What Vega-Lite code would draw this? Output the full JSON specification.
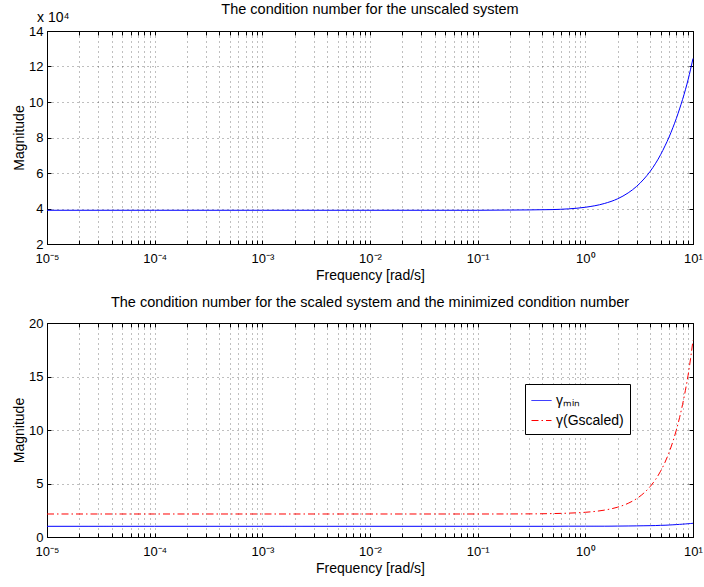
{
  "$schema": "https://vega.github.io/schema/vega-lite/v6.json",
  "background": "white",
  "padding": {"left": 12, "top": 1, "right": 6, "bottom": 2},
  "spacing": 11,
  "config": {
    "font": "Liberation Sans",
    "view": {"stroke": "black", "strokeWidth": 1},
    "axis": {
      "domainColor": "black", "tickColor": "black", "labelColor": "black", "titleColor": "black",
      "labelFont": "Liberation Sans", "titleFont": "Liberation Sans",
      "labelFontSize": 13, "titleFontSize": 14, "titleFontWeight": "normal",
      "gridColor": "black", "gridDash": [1, 4], "gridOpacity": 0.5, "gridWidth": 1,
      "tickSize": -4, "labelPadding": 8
    },
    "title": {"font": "Liberation Sans", "fontSize": 14.5, "fontWeight": "normal", "color": "black"},
    "legend": {"labelFont": "Liberation Sans"}
  },
  "datasets": {
    "unscaled": [
      {"frequency": 0.00001, "magnitude": 39000},
      {"frequency": 0.0001, "magnitude": 39000},
      {"frequency": 0.001, "magnitude": 39000},
      {"frequency": 0.01, "magnitude": 39000},
      {"frequency": 0.1, "magnitude": 39000},
      {"frequency": 0.3, "magnitude": 39200},
      {"frequency": 0.5, "magnitude": 39400},
      {"frequency": 0.7, "magnitude": 39800},
      {"frequency": 1, "magnitude": 40700},
      {"frequency": 1.5, "magnitude": 42800},
      {"frequency": 2, "magnitude": 45500},
      {"frequency": 2.5, "magnitude": 48800},
      {"frequency": 3, "magnitude": 52500},
      {"frequency": 3.5, "magnitude": 56600},
      {"frequency": 4, "magnitude": 60900},
      {"frequency": 4.5, "magnitude": 65500},
      {"frequency": 5, "magnitude": 70300},
      {"frequency": 5.5, "magnitude": 75300},
      {"frequency": 6, "magnitude": 80300},
      {"frequency": 6.5, "magnitude": 85500},
      {"frequency": 7, "magnitude": 90700},
      {"frequency": 7.5, "magnitude": 96100},
      {"frequency": 8, "magnitude": 101400},
      {"frequency": 8.5, "magnitude": 106900},
      {"frequency": 9, "magnitude": 112500},
      {"frequency": 9.5, "magnitude": 118500},
      {"frequency": 10, "magnitude": 124500}
    ],
    "scaled": [
      {"frequency": 0.00001, "magnitude": 1.00, "series": "γₘᵢₙ"},
      {"frequency": 0.0001, "magnitude": 1.00, "series": "γₘᵢₙ"},
      {"frequency": 0.001, "magnitude": 1.00, "series": "γₘᵢₙ"},
      {"frequency": 0.01, "magnitude": 1.00, "series": "γₘᵢₙ"},
      {"frequency": 0.1, "magnitude": 1.00, "series": "γₘᵢₙ"},
      {"frequency": 0.3, "magnitude": 1.00, "series": "γₘᵢₙ"},
      {"frequency": 0.5, "magnitude": 1.00, "series": "γₘᵢₙ"},
      {"frequency": 0.7, "magnitude": 1.01, "series": "γₘᵢₙ"},
      {"frequency": 1, "magnitude": 1.01, "series": "γₘᵢₙ"},
      {"frequency": 1.5, "magnitude": 1.01, "series": "γₘᵢₙ"},
      {"frequency": 2, "magnitude": 1.02, "series": "γₘᵢₙ"},
      {"frequency": 2.5, "magnitude": 1.03, "series": "γₘᵢₙ"},
      {"frequency": 3, "magnitude": 1.04, "series": "γₘᵢₙ"},
      {"frequency": 3.5, "magnitude": 1.05, "series": "γₘᵢₙ"},
      {"frequency": 4, "magnitude": 1.06, "series": "γₘᵢₙ"},
      {"frequency": 4.5, "magnitude": 1.07, "series": "γₘᵢₙ"},
      {"frequency": 5, "magnitude": 1.09, "series": "γₘᵢₙ"},
      {"frequency": 5.5, "magnitude": 1.10, "series": "γₘᵢₙ"},
      {"frequency": 6, "magnitude": 1.12, "series": "γₘᵢₙ"},
      {"frequency": 6.5, "magnitude": 1.14, "series": "γₘᵢₙ"},
      {"frequency": 7, "magnitude": 1.16, "series": "γₘᵢₙ"},
      {"frequency": 7.5, "magnitude": 1.18, "series": "γₘᵢₙ"},
      {"frequency": 8, "magnitude": 1.20, "series": "γₘᵢₙ"},
      {"frequency": 8.5, "magnitude": 1.22, "series": "γₘᵢₙ"},
      {"frequency": 9, "magnitude": 1.24, "series": "γₘᵢₙ"},
      {"frequency": 9.5, "magnitude": 1.26, "series": "γₘᵢₙ"},
      {"frequency": 10, "magnitude": 1.28, "series": "γₘᵢₙ"},
      {"frequency": 0.00001, "magnitude": 2.15, "series": "γ(Gscaled)"},
      {"frequency": 0.0001, "magnitude": 2.15, "series": "γ(Gscaled)"},
      {"frequency": 0.001, "magnitude": 2.15, "series": "γ(Gscaled)"},
      {"frequency": 0.01, "magnitude": 2.15, "series": "γ(Gscaled)"},
      {"frequency": 0.1, "magnitude": 2.15, "series": "γ(Gscaled)"},
      {"frequency": 0.3, "magnitude": 2.16, "series": "γ(Gscaled)"},
      {"frequency": 0.5, "magnitude": 2.19, "series": "γ(Gscaled)"},
      {"frequency": 0.7, "magnitude": 2.23, "series": "γ(Gscaled)"},
      {"frequency": 1, "magnitude": 2.31, "series": "γ(Gscaled)"},
      {"frequency": 1.5, "magnitude": 2.51, "series": "γ(Gscaled)"},
      {"frequency": 2, "magnitude": 2.79, "series": "γ(Gscaled)"},
      {"frequency": 2.5, "magnitude": 3.15, "series": "γ(Gscaled)"},
      {"frequency": 3, "magnitude": 3.59, "series": "γ(Gscaled)"},
      {"frequency": 3.5, "magnitude": 4.11, "series": "γ(Gscaled)"},
      {"frequency": 4, "magnitude": 4.71, "series": "γ(Gscaled)"},
      {"frequency": 4.5, "magnitude": 5.39, "series": "γ(Gscaled)"},
      {"frequency": 5, "magnitude": 6.15, "series": "γ(Gscaled)"},
      {"frequency": 5.5, "magnitude": 6.99, "series": "γ(Gscaled)"},
      {"frequency": 6, "magnitude": 7.91, "series": "γ(Gscaled)"},
      {"frequency": 6.5, "magnitude": 8.91, "series": "γ(Gscaled)"},
      {"frequency": 7, "magnitude": 9.99, "series": "γ(Gscaled)"},
      {"frequency": 7.5, "magnitude": 11.15, "series": "γ(Gscaled)"},
      {"frequency": 8, "magnitude": 12.39, "series": "γ(Gscaled)"},
      {"frequency": 8.5, "magnitude": 13.71, "series": "γ(Gscaled)"},
      {"frequency": 9, "magnitude": 15.11, "series": "γ(Gscaled)"},
      {"frequency": 9.5, "magnitude": 16.7, "series": "γ(Gscaled)"},
      {"frequency": 10, "magnitude": 18.4, "series": "γ(Gscaled)"}
    ]
  },
  "vconcat": [
    {
      "title": {"text": "The condition number for the unscaled system", "offset": -6},
      "width": 646,
      "height": 213,
      "resolve": {"axis": {"x": "independent", "y": "independent"}},
      "layer": [
        {
          "data": {"name": "unscaled"},
          "mark": {"type": "line", "color": "#0000ff", "strokeWidth": 1, "interpolate": "monotone"},
          "encoding": {
            "x": {
              "field": "frequency", "type": "quantitative",
              "scale": {"type": "log", "domain": [0.00001, 10], "nice": false},
              "axis": {
                "orient": "bottom",
                "title": "Frequency [rad/s]",
                "values": [0.00001,0.00002,0.00003,0.00004,0.00005,0.00006,0.00007,0.00008,0.00009,
                           0.0001,0.0002,0.0003,0.0004,0.0005,0.0006,0.0007,0.0008,0.0009,
                           0.001,0.002,0.003,0.004,0.005,0.006,0.007,0.008,0.009,
                           0.01,0.02,0.03,0.04,0.05,0.06,0.07,0.08,0.09,
                           0.1,0.2,0.3,0.4,0.5,0.6,0.7,0.8,0.9,
                           1,2,3,4,5,6,7,8,9,10],
                "labelExpr": "abs(log(datum.value)/LN10 - round(log(datum.value)/LN10)) < 0.01 ? ['10⁻⁵','10⁻⁴','10⁻³','10⁻²','10⁻¹','10⁰','10¹'][round(log(datum.value)/LN10)+5] : ''",
                "labelFlush": false, "labelOverlap": false, "grid": true, "labelPadding": 12, "titlePadding": 3
              }
            },
            "y": {
              "field": "magnitude", "type": "quantitative",
              "scale": {"domain": [20000, 140000], "nice": false},
              "axis": {
                "orient": "left",
                "title": "Magnitude",
                "values": [20000, 40000, 60000, 80000, 100000, 120000, 140000],
                "labelExpr": "format(datum.value/10000, 'd')",
                "labelOverlap": false, "grid": true, "titlePadding": 2
              }
            }
          }
        },
        {
          "data": {"values": [{"note": "exponent"}]},
          "mark": {"type": "text", "text": "x 10⁴", "align": "left", "baseline": "alphabetic", "dx": -10, "dy": -9, "fontSize": 14, "fontWeight": "normal", "font": "Liberation Sans", "color": "black"},
          "encoding": {
            "x": {
              "datum": 0.00001, "type": "quantitative",
              "axis": {
                "orient": "top", "title": null, "labels": false, "grid": false, "domain": false,
                "values": [0.00001,0.00002,0.00003,0.00004,0.00005,0.00006,0.00007,0.00008,0.00009,
                           0.0001,0.0002,0.0003,0.0004,0.0005,0.0006,0.0007,0.0008,0.0009,
                           0.001,0.002,0.003,0.004,0.005,0.006,0.007,0.008,0.009,
                           0.01,0.02,0.03,0.04,0.05,0.06,0.07,0.08,0.09,
                           0.1,0.2,0.3,0.4,0.5,0.6,0.7,0.8,0.9,
                           1,2,3,4,5,6,7,8,9,10]
              }
            },
            "y": {
              "datum": 140000, "type": "quantitative",
              "axis": {
                "orient": "right", "title": null, "labels": false, "grid": false, "domain": false,
                "values": [20000, 40000, 60000, 80000, 100000, 120000, 140000]
              }
            }
          }
        }
      ]
    },
    {
      "title": {"text": "The condition number for the scaled system and the minimized condition number", "offset": 7},
      "width": 646,
      "height": 214,
      "resolve": {"axis": {"x": "independent", "y": "independent"}},
      "layer": [
        {
          "data": {"name": "scaled"},
          "mark": {"type": "line", "strokeWidth": 1, "interpolate": "monotone"},
          "encoding": {
            "x": {
              "field": "frequency", "type": "quantitative",
              "scale": {"type": "log", "domain": [0.00001, 10], "nice": false},
              "axis": {
                "orient": "bottom",
                "title": "Frequency [rad/s]",
                "values": [0.00001,0.00002,0.00003,0.00004,0.00005,0.00006,0.00007,0.00008,0.00009,
                           0.0001,0.0002,0.0003,0.0004,0.0005,0.0006,0.0007,0.0008,0.0009,
                           0.001,0.002,0.003,0.004,0.005,0.006,0.007,0.008,0.009,
                           0.01,0.02,0.03,0.04,0.05,0.06,0.07,0.08,0.09,
                           0.1,0.2,0.3,0.4,0.5,0.6,0.7,0.8,0.9,
                           1,2,3,4,5,6,7,8,9,10],
                "labelExpr": "abs(log(datum.value)/LN10 - round(log(datum.value)/LN10)) < 0.01 ? ['10⁻⁵','10⁻⁴','10⁻³','10⁻²','10⁻¹','10⁰','10¹'][round(log(datum.value)/LN10)+5] : ''",
                "labelFlush": false, "labelOverlap": false, "grid": true, "labelPadding": 12, "titlePadding": 3
              }
            },
            "y": {
              "field": "magnitude", "type": "quantitative",
              "scale": {"domain": [0, 20], "nice": false},
              "axis": {"orient": "left", "title": "Magnitude", "values": [0, 5, 10, 15, 20], "labelOverlap": false, "grid": true, "titlePadding": 2}
            },
            "color": {
              "field": "series", "type": "nominal",
              "scale": {"domain": ["γₘᵢₙ", "γ(Gscaled)"], "range": ["#0000ff", "#ff0000"]},
              "legend": {
                "title": null, "orient": "none", "legendX": 478, "legendY": 353,
                "strokeColor": "black", "fillColor": "white", "padding": 6,
                "symbolType": "stroke", "symbolSize": 400, "symbolStrokeWidth": 1,
                "labelFontSize": 14, "labelColor": "black", "rowPadding": 2
              }
            },
            "strokeDash": {
              "field": "series", "type": "nominal",
              "scale": {"domain": ["γₘᵢₙ", "γ(Gscaled)"], "range": [[1, 0], [7, 3, 1.5, 3]]},
              "legend": {
                "title": null, "orient": "none", "legendX": 478, "legendY": 353,
                "strokeColor": "black", "fillColor": "white", "padding": 6,
                "symbolType": "stroke", "symbolSize": 400, "symbolStrokeWidth": 1,
                "labelFontSize": 14, "labelColor": "black", "rowPadding": 2
              }
            }
          }
        },
        {
          "data": {"values": [{"note": "frame ticks"}]},
          "mark": {"type": "text", "text": ""},
          "encoding": {
            "x": {
              "datum": 0.00001, "type": "quantitative",
              "axis": {
                "orient": "top", "title": null, "labels": false, "grid": false, "domain": false,
                "values": [0.00001,0.00002,0.00003,0.00004,0.00005,0.00006,0.00007,0.00008,0.00009,
                           0.0001,0.0002,0.0003,0.0004,0.0005,0.0006,0.0007,0.0008,0.0009,
                           0.001,0.002,0.003,0.004,0.005,0.006,0.007,0.008,0.009,
                           0.01,0.02,0.03,0.04,0.05,0.06,0.07,0.08,0.09,
                           0.1,0.2,0.3,0.4,0.5,0.6,0.7,0.8,0.9,
                           1,2,3,4,5,6,7,8,9,10]
              }
            },
            "y": {
              "datum": 0, "type": "quantitative",
              "axis": {
                "orient": "right", "title": null, "labels": false, "grid": false, "domain": false,
                "values": [0, 5, 10, 15, 20]
              }
            }
          }
        }
      ]
    }
  ]
}
